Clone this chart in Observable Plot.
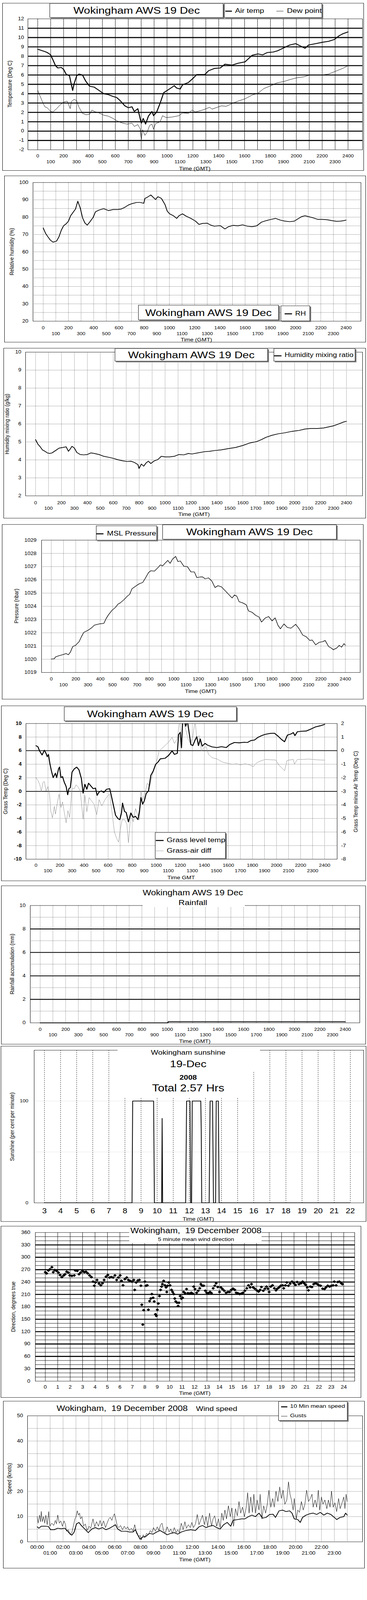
<!DOCTYPE html>
<html>
<head>
<meta charset="utf-8">
<script src="https://cdn.jsdelivr.net/npm/d3@7"></script>
<script src="https://cdn.jsdelivr.net/npm/@observablehq/plot@0.6"></script>
<style>
html,body{margin:0;padding:0;background:#fff;overflow:hidden;}
#page{position:relative;width:940px;height:4800px;overflow:hidden;background:#fff;font-family:"Liberation Sans",Arial,Helvetica,sans-serif;color:#000;transform-origin:0 0;}
.pb{position:absolute;border:1px solid #000;box-sizing:border-box;}
.sv{position:absolute;}
.bx{position:absolute;background:#fff;border:1px solid #000;box-sizing:border-box;box-shadow:3px 3px 0 #808080;}
.wh{position:absolute;background:#fff;}
.t{position:absolute;white-space:nowrap;line-height:1;}
.sw{position:absolute;}
</style>
</head>
<body>
<div id="page"></div>
<script>
// ---------------- DATA (time in hours GMT) ----------------
const hourTicks = [0,1,2,3,4,5,6,7,8,9,10,11,12,13,14,15,16,17,18,19,20,21,22,23,24];
const evenHours = [0,2,4,6,8,10,12,14,16,18,20,22,24];
const oddHours = [1,3,5,7,9,11,13,15,17,19,21,23];
const evenHoursWS = [0,2,4,6,8,10,12,14,16,18,20,22];

const airTemp = [[0,8.75],[0.55,8.5],[0.73,8.4],[1.00,8.15],[1.18,7.6],[1.37,7.0],[1.55,6.75],[1.82,6.8],[2.00,6.6],[2.19,6.1],[2.46,5.9],[2.55,5.3],[2.70,4.35],[2.82,5.1],[3.01,5.9],[3.19,6.1],[3.46,6.0],[3.73,5.3],[4.01,4.8],[4.37,4.7],[4.74,4.35],[5.10,4.0],[5.46,3.9],[5.83,3.7],[6.10,3.6],[6.38,3.25],[6.74,2.7],[7.01,2.5],[7.29,2.6],[7.47,2.1],[7.74,2.4],[7.92,1.35],[8.01,0.85],[8.16,1.35],[8.34,0.75],[8.56,1.6],[8.83,2.1],[8.96,1.65],[9.20,2.05],[9.47,3.0],[9.74,4.1],[10.02,4.35],[10.29,4.6],[10.56,4.85],[10.75,4.6],[11.02,4.5],[11.20,4.95],[11.66,5.2],[12.02,5.65],[12.30,6.05],[12.93,6.05],[13.21,6.45],[13.66,6.7],[14.12,6.75],[14.48,7.15],[15.03,7.05],[15.48,7.25],[16.03,7.4],[16.58,8.1],[17.03,8.25],[17.40,8.15],[17.76,8.4],[18.21,8.45],[18.58,8.6],[19.03,8.9],[19.49,9.2],[19.95,9.35],[20.31,9.1],[20.67,8.85],[20.95,9.2],[21.49,9.35],[22.04,9.5],[22.50,9.6],[22.95,9.8],[23.32,10.2],[23.59,10.4],[24.00,10.6]];
const dewPoint = [[0,4.35],[0.18,3.75],[0.36,3.15],[0.55,2.6],[0.73,2.5],[1.00,2.1],[1.18,2.05],[1.46,2.4],[1.73,2.8],[2.00,3.1],[2.28,3.2],[2.51,2.4],[2.60,3.15],[2.82,3.4],[3.01,3.25],[3.19,2.55],[3.46,1.9],[3.73,1.75],[4.01,1.8],[4.19,2.25],[4.46,2.05],[4.74,1.95],[5.10,1.7],[5.46,1.6],[5.83,1.35],[6.19,1.05],[6.56,0.85],[6.92,0.75],[7.29,0.85],[7.47,0.5],[7.74,0.7],[7.92,0.25],[8.01,-0.9],[8.11,0.15],[8.29,-0.45],[8.47,-0.1],[8.65,0.6],[8.83,0.75],[8.96,0.2],[9.11,0.8],[9.47,1.0],[9.65,1.65],[9.93,1.45],[10.38,1.5],[10.93,1.65],[11.20,1.95],[11.66,1.9],[11.93,2.25],[12.20,2.05],[12.75,2.25],[13.30,2.55],[13.48,2.35],[14.21,2.7],[14.57,2.65],[15.12,3.0],[15.48,3.2],[16.03,3.45],[16.58,3.85],[17.03,4.05],[17.49,4.55],[18.03,4.85],[18.49,5.15],[19.03,5.3],[19.49,5.5],[20.04,5.7],[20.58,5.8],[21.04,6.0],[21.49,6.0],[22.04,6.0],[22.50,6.1],[23.04,6.4],[23.59,6.7],[24.00,7.0]];
const relHum = [[0,73.8],[0.19,70.6],[0.37,68.7],[0.56,66.8],[0.78,65.6],[1.06,66.2],[1.25,68.7],[1.44,72.6],[1.62,75.1],[1.81,76.1],[2.00,77.7],[2.18,80.9],[2.37,82.8],[2.56,84.7],[2.74,89.2],[2.93,85.4],[3.12,79.6],[3.30,76.7],[3.49,75.4],[3.68,77.1],[3.96,79.9],[4.14,83.1],[4.42,84.1],[4.79,84.9],[5.17,83.8],[5.54,84.4],[5.91,84.4],[6.19,84.7],[6.47,85.7],[6.75,87.0],[7.03,87.8],[7.41,88.5],[7.69,88.5],[7.97,88.0],[8.06,90.8],[8.25,91.5],[8.53,92.8],[8.71,91.5],[8.90,90.2],[9.09,91.8],[9.37,90.8],[9.65,87.3],[9.83,83.5],[10.02,81.9],[10.30,80.9],[10.58,79.3],[10.77,80.9],[11.04,81.9],[11.32,80.6],[11.70,79.3],[12.07,77.7],[12.35,75.8],[12.63,76.4],[13.00,76.5],[13.28,75.4],[13.56,74.8],[14.03,75.1],[14.40,73.2],[14.68,74.5],[15.06,75.3],[15.43,75.0],[15.80,75.6],[16.18,74.8],[16.55,74.5],[16.92,75.0],[17.29,77.1],[17.67,78.0],[18.04,78.7],[18.41,79.3],[18.79,78.3],[19.16,77.7],[19.53,77.4],[19.90,77.7],[20.18,79.0],[20.47,80.3],[20.75,80.8],[21.03,80.3],[21.40,79.6],[21.77,78.7],[22.15,78.7],[22.52,78.5],[22.89,78.0],[23.27,77.6],[23.54,77.7],[23.82,78.0],[24.00,78.3]];
const mixRatio = [[0,5.13],[0.18,4.88],[0.36,4.73],[0.54,4.55],[0.73,4.48],[0.91,4.39],[1.09,4.36],[1.27,4.39],[1.54,4.52],[1.82,4.66],[2.09,4.69],[2.36,4.73],[2.54,4.48],[2.67,4.6],[2.81,4.76],[3.00,4.66],[3.18,4.42],[3.45,4.3],[3.72,4.28],[3.99,4.3],[4.27,4.39],[4.54,4.36],[4.90,4.3],[5.27,4.2],[5.63,4.15],[5.99,4.09],[6.35,4.01],[6.72,3.95],[7.08,3.91],[7.35,3.93],[7.63,3.86],[7.90,3.74],[7.99,3.52],[8.17,3.77],[8.35,3.65],[8.53,3.83],[8.71,3.93],[8.90,3.8],[9.17,3.95],[9.44,4.02],[9.71,4.2],[9.99,4.17],[10.35,4.17],[10.71,4.2],[11.07,4.3],[11.44,4.28],[11.80,4.36],[12.07,4.33],[12.53,4.39],[13.07,4.46],[13.43,4.48],[13.80,4.52],[14.34,4.56],[14.89,4.63],[15.43,4.69],[15.98,4.8],[16.52,4.94],[17.07,5.02],[17.43,5.13],[17.79,5.26],[18.25,5.37],[18.70,5.45],[19.24,5.51],[19.79,5.59],[20.33,5.64],[20.79,5.72],[21.24,5.75],[21.79,5.75],[22.24,5.78],[22.69,5.85],[23.06,5.91],[23.42,6.01],[23.78,6.11],[24.00,6.15]];
const mslPressure = [[0,1020.02],[0.25,1020.04],[0.35,1020.18],[0.63,1020.27],[0.92,1020.34],[1.21,1020.43],[1.40,1020.34],[1.56,1020.54],[1.75,1020.96],[1.98,1021.05],[2.27,1021.33],[2.46,1021.7],[2.65,1022.03],[3.04,1022.21],[3.32,1022.4],[3.52,1022.58],[3.90,1022.67],[4.29,1022.71],[4.48,1023.08],[4.67,1023.36],[4.96,1023.7],[5.25,1023.93],[5.44,1024.16],[5.63,1024.26],[5.92,1024.49],[6.21,1024.77],[6.40,1024.91],[6.59,1025.33],[6.88,1025.52],[7.17,1025.7],[7.46,1025.8],[7.65,1026.08],[7.94,1026.55],[8.13,1026.69],[8.42,1026.66],[8.70,1026.92],[8.90,1027.13],[9.09,1027.06],[9.28,1027.25],[9.51,1027.47],[9.70,1027.25],[9.90,1027.57],[10.15,1027.77],[10.34,1027.38],[10.53,1027.43],[10.82,1027.03],[11.11,1027.0],[11.40,1026.6],[11.68,1026.6],[11.88,1026.17],[12.16,1026.22],[12.36,1026.22],[12.55,1026.08],[12.84,1026.15],[13.12,1025.89],[13.36,1025.42],[13.61,1025.56],[13.89,1025.47],[14.18,1025.19],[14.47,1024.91],[14.76,1024.63],[14.95,1024.86],[15.14,1024.77],[15.33,1024.35],[15.62,1024.26],[15.91,1024.12],[16.10,1023.65],[16.39,1023.55],[16.68,1023.32],[16.97,1023.18],[17.16,1022.81],[17.45,1023.11],[17.74,1023.23],[18.02,1022.9],[18.27,1023.13],[18.50,1022.57],[18.70,1022.3],[18.99,1022.67],[19.27,1022.4],[19.56,1022.35],[19.95,1022.64],[20.23,1022.3],[20.52,1021.83],[20.81,1021.7],[21.10,1021.42],[21.29,1021.46],[21.58,1021.09],[21.87,1021.28],[22.16,1021.33],[22.35,1021.42],[22.64,1020.96],[22.83,1020.86],[23.02,1020.72],[23.31,1020.86],[23.50,1021.05],[23.69,1020.91],[23.89,1021.18],[24.00,1021.06]];
const grassTemp = [[0,6.74],[0.16,6.58],[0.31,5.93],[0.51,5.36],[0.70,6.06],[0.84,5.6],[0.94,5.11],[1.04,5.44],[1.17,3.97],[1.29,2.99],[1.43,2.02],[1.62,2.67],[1.72,2.02],[1.88,3.32],[1.96,3.57],[2.08,2.02],[2.21,2.18],[2.35,1.37],[2.51,0.72],[2.64,-0.5],[2.74,0.39],[2.86,0.55],[3.00,2.83],[3.19,3.32],[3.39,3.57],[3.58,3.16],[3.78,1.86],[3.92,-0.26],[4.07,1.04],[4.23,0.31],[4.37,1.2],[4.56,0.8],[4.76,0.39],[4.95,0.47],[5.09,-0.59],[5.25,-0.1],[5.44,0.07],[5.64,-0.18],[5.87,0.31],[6.13,0.39],[6.26,-0.59],[6.42,-1.89],[6.62,-3.52],[6.81,-4.0],[6.97,-4.17],[7.11,-3.19],[7.20,-1.73],[7.36,-2.95],[7.50,-3.11],[7.69,-4.5],[7.89,-3.19],[8.09,-3.84],[8.28,-3.68],[8.48,-4.17],[8.61,-2.87],[8.73,-0.91],[8.87,-1.89],[9.01,-1.4],[9.16,-0.34],[9.36,0.07],[9.55,2.35],[9.75,2.99],[9.95,3.97],[10.14,4.3],[10.34,4.79],[10.73,4.87],[11.02,5.28],[11.32,5.96],[11.51,5.44],[11.75,5.6],[11.86,8.37],[12.00,8.7],[12.10,6.42],[12.20,10.6],[12.33,10.6],[12.45,9.59],[12.59,10.4],[12.69,9.19],[12.88,6.9],[13.04,6.74],[13.23,7.56],[13.37,8.05],[13.51,6.74],[13.66,7.72],[13.82,6.66],[14.06,7.07],[14.25,6.82],[14.64,6.55],[15.04,6.45],[15.43,6.58],[15.82,6.45],[16.11,6.9],[16.50,7.2],[16.90,7.15],[17.29,7.23],[17.58,7.2],[17.87,7.48],[18.17,7.56],[18.46,7.96],[18.76,8.21],[19.05,8.4],[19.44,8.53],[19.83,8.57],[20.13,8.13],[20.42,7.64],[20.67,7.31],[20.91,8.29],[21.20,8.45],[21.40,8.66],[21.53,8.21],[21.73,8.78],[22.08,8.86],[22.47,8.89],[22.87,9.19],[23.26,9.51],[23.65,9.67],[24.00,9.87]];
const grassAirDiff = [[0,-1.99],[0.16,-2.19],[0.31,-2.48],[0.45,-3.01],[0.59,-2.32],[0.70,-2.28],[0.84,-2.97],[1.00,-2.64],[1.14,-3.29],[1.23,-4.43],[1.37,-4.96],[1.53,-4.11],[1.62,-4.68],[1.76,-3.94],[1.92,-3.21],[2.08,-4.19],[2.21,-3.78],[2.35,-4.51],[2.51,-5.33],[2.66,-4.43],[2.80,-4.92],[3.00,-2.8],[3.19,-2.8],[3.33,-2.52],[3.48,-2.64],[3.68,-2.97],[3.92,-5.04],[4.07,-3.29],[4.23,-4.51],[4.42,-3.46],[4.62,-3.7],[4.82,-3.94],[5.05,-4.72],[5.25,-3.62],[5.48,-4.07],[5.74,-3.62],[5.93,-3.37],[6.13,-3.21],[6.32,-4.51],[6.52,-5.98],[6.71,-6.47],[6.87,-6.75],[7.01,-5.81],[7.17,-5.08],[7.36,-5.08],[7.56,-5.41],[7.69,-6.79],[7.89,-4.6],[8.09,-5.25],[8.28,-4.27],[8.48,-4.76],[8.61,-5.08],[8.73,-2.97],[8.87,-3.62],[9.06,-3.13],[9.26,-2.4],[9.46,-2.64],[9.65,-1.91],[9.85,-1.26],[10.04,-0.77],[10.24,-0.04],[10.43,0.13],[10.73,0.37],[11.02,0.62],[11.32,0.98],[11.51,0.53],[11.75,0.86],[11.94,2.2],[12.20,2.2],[12.39,1.76],[12.65,0.86],[12.84,0.53],[13.04,1.02],[13.23,2.2],[13.37,0.94],[13.57,1.1],[13.76,-0.04],[13.96,0.21],[14.15,0.29],[14.35,-0.28],[14.64,-0.52],[15.04,-0.61],[15.52,-0.85],[15.92,-0.93],[16.31,-1.01],[16.70,-0.97],[16.99,-1.05],[17.38,-0.97],[17.78,-1.05],[18.07,-1.18],[18.36,-0.89],[18.66,-0.77],[19.05,-0.65],[19.44,-0.67],[19.93,-0.69],[20.22,-1.09],[20.52,-1.34],[20.67,-1.49],[20.87,-0.73],[21.10,-0.69],[21.40,-0.65],[21.49,-1.0],[21.73,-0.65],[22.18,-0.65],[22.67,-0.62],[23.26,-0.67],[23.65,-0.69],[24.00,-0.7]];
const rainfall = [[0,0],[10.04,0],[10.08,0.1],[24.00,0.1]];
const sunshine = [[3.00,0],[8.44,0],[8.48,100],[9.78,100],[9.83,0],[10.28,0],[10.31,83],[10.34,0],[11.77,0],[11.83,100],[12.04,100],[12.08,0],[12.14,0],[12.18,100],[12.71,100],[12.74,71],[12.77,0],[13.23,0],[13.29,100],[13.44,100],[13.47,50],[13.50,0],[13.63,0],[13.67,100],[13.80,100],[13.85,0],[21.96,0]];
const windDir = [[0.00,264],[0.11,261],[0.25,268],[0.38,271],[0.53,276],[0.64,264],[0.76,269],[0.91,267],[1.06,263],[1.19,257],[1.33,252],[1.48,256],[1.59,259],[1.72,265],[1.85,263],[1.97,256],[2.14,255],[2.33,256],[2.42,268],[2.57,267],[2.71,259],[2.84,263],[2.99,267],[3.14,264],[3.27,265],[3.41,261],[3.56,256],[3.71,252],[3.84,241],[3.94,231],[4.03,239],[4.16,245],[4.32,236],[4.47,232],[4.60,237],[4.73,245],[4.88,253],[5.03,257],[5.17,251],[5.30,252],[5.45,251],[5.60,256],[5.74,245],[5.87,251],[6.02,256],[6.13,243],[6.25,232],[6.40,247],[6.55,251],[6.68,245],[6.81,243],[6.97,241],[7.12,245],[7.19,221],[7.31,239],[7.44,244],[7.57,245],[7.69,231],[7.76,185],[7.84,137],[7.91,172],[8.01,241],[8.10,231],[8.20,232],[8.29,173],[8.39,194],[8.48,200],[8.57,211],[8.67,202],[8.76,193],[8.86,162],[8.93,158],[9.01,173],[9.09,188],[9.18,206],[9.27,221],[9.35,229],[9.42,235],[9.52,243],[9.62,232],[9.71,227],[9.77,216],[9.84,231],[9.92,239],[10.03,232],[10.15,221],[10.24,216],[10.33,211],[10.41,200],[10.49,193],[10.60,190],[10.68,182],[10.75,190],[10.85,206],[10.94,200],[11.04,202],[11.13,216],[11.24,213],[11.36,223],[11.47,213],[11.60,212],[11.74,214],[11.85,212],[11.93,229],[12.04,223],[12.17,214],[12.30,219],[12.42,225],[12.51,235],[12.61,231],[12.74,231],[12.87,219],[12.98,214],[13.12,213],[13.25,216],[13.36,213],[13.50,225],[13.63,231],[13.74,237],[13.87,228],[14.01,216],[14.12,227],[14.25,223],[14.39,219],[14.54,214],[14.69,216],[14.82,216],[14.95,221],[15.10,224],[15.24,221],[15.35,214],[15.48,213],[15.63,211],[15.77,212],[15.90,214],[16.05,219],[16.20,225],[16.34,232],[16.47,227],[16.58,235],[16.71,227],[16.85,224],[17.00,220],[17.15,217],[17.28,221],[17.38,228],[17.53,219],[17.66,224],[17.79,229],[17.91,224],[18.00,216],[18.13,229],[18.27,232],[18.42,225],[18.55,220],[18.66,224],[18.80,227],[18.93,231],[19.08,232],[19.17,225],[19.31,232],[19.42,239],[19.55,231],[19.69,236],[19.84,241],[19.99,237],[20.12,233],[20.25,240],[20.40,235],[20.56,237],[20.69,241],[20.82,237],[20.94,233],[21.07,227],[21.16,220],[21.31,229],[21.44,228],[21.58,235],[21.73,237],[21.88,235],[22.01,232],[22.14,231],[22.30,224],[22.45,223],[22.57,227],[22.71,231],[22.86,229],[23.01,231],[23.14,232],[23.24,241],[23.39,232],[23.52,240],[23.65,241],[23.80,237],[23.89,235]];
const windMean = [[0,5.95],[0.13,5.4],[0.31,6.2],[0.58,6.2],[0.86,6.1],[1.04,4.8],[1.31,4.8],[1.59,5.4],[1.86,5.2],[2.13,5.4],[2.31,4.5],[2.50,3.35],[2.68,2.65],[2.86,3.9],[3.04,7.1],[3.23,7.7],[3.41,6.5],[3.68,5.1],[3.95,3.65],[4.23,5.1],[4.50,5.65],[4.77,5.1],[5.05,5.65],[5.32,4.8],[5.60,5.4],[5.87,6.2],[6.05,6.8],[6.23,5.1],[6.51,4.2],[6.87,4.2],[7.14,3.9],[7.42,3.9],[7.60,4.8],[7.78,2.8],[7.96,1.05],[8.15,1.9],[8.42,2.2],[8.69,3.35],[8.97,3.05],[9.24,3.9],[9.51,4.5],[9.79,3.65],[10.06,2.8],[10.33,3.35],[10.61,3.65],[10.88,3.05],[11.15,3.9],[11.52,4.5],[11.88,4.8],[12.25,4.5],[12.52,5.95],[12.79,6.5],[13.07,5.65],[13.34,6.2],[13.61,6.5],[13.89,5.65],[14.16,5.1],[14.43,6.8],[14.71,7.7],[14.98,6.2],[15.16,8.55],[15.53,8.85],[15.80,9.1],[16.07,9.1],[16.35,10.0],[16.62,10.6],[16.89,10.0],[17.17,11.4],[17.44,9.4],[17.71,9.7],[17.99,10.85],[18.26,10.95],[18.44,9.7],[18.72,12.3],[18.99,12.6],[19.26,12.0],[19.54,12.3],[19.72,11.4],[19.90,9.1],[20.17,8.85],[20.36,7.7],[20.54,9.7],[20.81,10.6],[21.09,11.15],[21.36,11.4],[21.63,10.85],[21.91,11.7],[22.18,10.6],[22.45,11.4],[22.73,10.85],[23.00,9.7],[23.18,8.85],[23.45,9.7],[23.73,10.0],[23.87,11.4],[24.00,10.6]];
const windGust = [[0,10.0],[0.07,7.4],[0.18,10.6],[0.26,8.0],[0.31,12.1],[0.40,8.0],[0.49,10.0],[0.58,7.4],[0.67,10.6],[0.77,6.8],[0.89,12.0],[0.98,6.2],[1.13,7.4],[1.28,6.5],[1.40,8.5],[1.49,7.1],[1.59,10.6],[1.71,7.4],[1.82,8.3],[1.95,6.2],[2.08,8.3],[2.19,6.8],[2.26,4.2],[2.41,4.8],[2.55,2.8],[2.68,3.65],[2.77,5.65],[2.92,9.1],[2.99,9.7],[3.10,12.3],[3.19,10.6],[3.28,11.4],[3.35,9.1],[3.46,10.0],[3.59,6.2],[3.72,7.1],[3.86,4.5],[4.01,6.2],[4.14,5.4],[4.32,9.1],[4.45,5.95],[4.59,8.0],[4.74,6.2],[4.87,8.5],[4.99,6.2],[5.14,8.3],[5.29,5.65],[5.41,7.4],[5.54,9.1],[5.65,9.7],[5.78,8.5],[5.87,10.0],[5.98,11.15],[6.09,8.85],[6.20,6.2],[6.32,5.65],[6.45,6.5],[6.60,4.8],[6.74,6.2],[6.87,5.1],[7.00,5.95],[7.14,4.5],[7.29,5.4],[7.42,4.2],[7.55,6.8],[7.69,3.35],[7.84,2.2],[7.96,2.5],[8.06,0.75],[8.20,2.8],[8.33,1.6],[8.46,3.35],[8.60,2.8],[8.75,4.5],[8.88,3.65],[9.00,5.65],[9.15,4.2],[9.29,5.95],[9.42,4.5],[9.55,6.8],[9.66,7.4],[9.79,4.2],[9.91,3.65],[10.06,5.95],[10.21,3.9],[10.33,5.1],[10.46,3.35],[10.61,5.65],[10.75,3.65],[10.88,4.8],[11.01,3.65],[11.15,7.4],[11.30,4.8],[11.43,8.0],[11.55,5.4],[11.70,6.8],[11.85,5.65],[11.97,7.7],[12.10,5.65],[12.25,7.1],[12.39,10.85],[12.52,6.8],[12.65,8.5],[12.79,10.6],[12.94,6.8],[13.07,10.0],[13.19,6.2],[13.34,11.4],[13.49,6.2],[13.61,9.1],[13.74,10.3],[13.89,6.2],[14.03,9.1],[14.16,5.65],[14.29,11.4],[14.40,8.5],[14.53,12.6],[14.65,9.1],[14.80,14.3],[14.94,10.0],[15.07,13.45],[15.20,6.2],[15.35,13.15],[15.49,10.3],[15.62,16.0],[15.75,11.4],[15.89,13.75],[16.04,10.0],[16.17,13.45],[16.29,19.5],[16.40,11.4],[16.53,17.8],[16.66,11.7],[16.77,18.9],[16.89,11.4],[17.02,16.6],[17.17,12.6],[17.26,18.9],[17.39,9.1],[17.53,14.3],[17.68,11.4],[17.81,14.9],[17.93,20.5],[18.08,13.75],[18.23,17.2],[18.35,13.75],[18.48,20.1],[18.63,16.0],[18.77,21.8],[18.90,17.2],[19.03,20.5],[19.17,14.9],[19.32,16.6],[19.45,23.8],[19.57,18.9],[19.68,16.6],[19.81,12.6],[19.90,17.2],[20.05,9.1],[20.17,12.6],[20.30,11.7],[20.45,16.0],[20.59,12.6],[20.72,14.9],[20.85,20.5],[21.00,16.0],[21.14,17.2],[21.27,18.9],[21.36,13.75],[21.51,16.6],[21.63,13.75],[21.76,20.5],[21.87,12.6],[22.00,17.8],[22.12,14.9],[22.27,16.6],[22.42,13.15],[22.54,16.6],[22.67,13.75],[22.78,20.1],[22.91,13.75],[23.04,15.5],[23.18,12.0],[23.33,17.2],[23.45,13.15],[23.58,15.2],[23.73,17.8],[23.82,13.15],[23.91,18.9],[24.00,16.0]];

const tempTicks = [-2,-1,0,1,2,3,4,5,6,7,8,9,10,11,12];
const tempGrid = [-1,0,1,2,3,4,5,6,7,8,9,10,11];
const rhTicks = [20,30,40,50,60,70,80,90,100];
const rhGrid = [25,30,35,40,45,50,55,60,65,70,75,80,85,90,95];
const mixTicks = [2,3,4,5,6,7,8,9,10];
const mixGrid = [3,4,5,6,7,8,9];
const presTicks = [1019,1020,1021,1022,1023,1024,1025,1026,1027,1028,1029];
const presGrid = [1020,1021,1022,1023,1024,1025,1026,1027,1028];
const grassTicks = [-10,-8,-6,-4,-2,0,2,4,6,8,10];
const grassDotGrid = [-8,-6,-4,-2,2,4,8];
const grassSolidGrid = [0,6];
const diffTicks = [-8,-7,-6,-5,-4,-3,-2,-1,0,1,2];
const rainTicks = [0,2,4,6,8,10];
const rainThickGrid = [2,4,6,8];
const rainDotGrid = [1,3,5,7,9];
const sunHours = [3,4,5,6,7,8,9,10,11,12,13,14,15,16,17,18,19,20,21,22];
const sunTicks = [0,100];
const sunGrid = [50,100];
const dirTicks = [0,30,60,90,120,150,180,210,240,270,300,330,360];
const dirMajor = [30,60,90,120,150,180,210,240,270,300,330];
const dirMinor = [10,20,40,50,70,80,100,110,130,140,160,170,190,200,220,230,250,260,280,290,310,320,340,350];
const wsTicks = [0,10,20,30,40,50];
const wsGrid = [5,10,15,20,25,30,35,40,45];

// ---------------- HELPERS ----------------
const page = document.getElementById("page");
// the layout is drawn on a 940x4800 sheet; fit it into the real viewport height
const fit = Math.min(1, (window.innerHeight || 4800) / 4800);
page.style.transform = "scale(1," + fit + ")";
document.body.style.height = Math.round(4800 * fit) + "px";

const FONT = '"Liberation Sans", Arial, Helvetica, sans-serif';
const X = d => d[0], Y = d => d[1];
const hhmm = d => String(d * 100);
const clock = d => String(d).padStart(2, "0") + ":00";
const num = d => String(d);

function el(cls, x, y, w, h) {
  const d = document.createElement("div");
  d.className = cls;
  d.style.left = x + "px"; d.style.top = y + "px";
  if (w != null) d.style.width = w + "px";
  if (h != null) d.style.height = h + "px";
  page.appendChild(d);
  return d;
}
function border(x0, y0, x1, y1) { el("pb", x0, y0, x1 - x0, y1 - y0); }
function box(x0, y0, x1, y1) { el("bx", x0, y0, x1 - x0, y1 - y0); }
function white(x0, y0, x1, y1) { el("wh", x0, y0, x1 - x0, y1 - y0); }
function swatch(x0, x1, y, th, color) { const d = el("sw", x0, y - th / 2, x1 - x0, th); d.style.background = color || "#000"; }
function txt(s, x, y, size, o = {}) {
  const d = el("t", x, y);
  d.textContent = s;
  d.style.fontSize = size + "px";
  const a = o.anchor || "middle";
  let tr = a === "middle" ? "translate(-50%,-50%)" : a === "start" ? "translate(0,-50%)" : "translate(-100%,-50%)";
  if (o.rotate) tr += " rotate(" + o.rotate + "deg)";
  d.style.transform = tr;
  if (o.weight) d.style.fontWeight = o.weight;
  if (o.color) d.style.color = o.color;
  if (o.pre) d.style.whiteSpace = "pre";
  return d;
}
function chart(P, opts) {
  const svg = Plot.plot(Object.assign({
    width: P.x1 - P.x0,
    height: P.y1 - P.y0,
    marginLeft: P.fl - P.x0,
    marginTop: P.ft - P.y0,
    marginRight: P.x1 - P.fr,
    marginBottom: P.y1 - P.fb,
    style: {fontFamily: FONT, fontSize: "13px", color: "#000", background: "transparent", overflow: "visible"}
  }, opts));
  const wrap = el("sv", P.x0, P.y0);
  wrap.appendChild(svg);
}
const dotted = {stroke: "#000", strokeWidth: 1, strokeDasharray: "1,2"};
const xAxes = (pad1, pad2) => [
  Plot.axisX({ticks: evenHours, tickFormat: hhmm, tickSize: 0, tickPadding: pad1, fontSize: 13, label: null}),
  Plot.axisX({ticks: oddHours, tickFormat: hhmm, tickSize: 0, tickPadding: pad2, fontSize: 13, label: null})
];

// ---------------- PANEL 1: temperature ----------------
{
  const P = {x0: 6, y0: 9, x1: 932, y1: 512, fl: 71, ft: 56, fr: 928, fb: 449};
  border(P.x0, P.y0, P.x1, P.y1);
  chart(P, {
    x: {domain: [-0.76, 25.12], label: null},
    y: {domain: [-2, 12], label: null},
    marks: [
      Plot.ruleX(hourTicks, {stroke: "#000", strokeWidth: 1}),
      Plot.ruleY(tempGrid, {stroke: "#000", strokeWidth: 3}),
      Plot.frame({stroke: "#000"}),
      Plot.line(dewPoint, {x: X, y: Y, stroke: "#000", strokeWidth: 1}),
      Plot.line(airTemp, {x: X, y: Y, stroke: "#000", strokeWidth: 2.5}),
      Plot.axisY({ticks: tempTicks, tickFormat: num, tickSize: 0, tickPadding: 10, fontSize: 14, label: null}),
      ...xAxes(14, 31)
    ]
  });
  box(127, 10, 572, 53);
  txt("Wokingham AWS 19 Dec", 350, 32, 29);
  box(574, 10, 825, 53);
  swatch(577, 594, 33, 3);
  txt("Air temp", 602, 32, 20, {anchor: "start"});
  swatch(708, 726, 33, 1);
  txt("Dew point", 735, 32, 20, {anchor: "start"});
  txt("Temperature (Deg C)", 24, 252, 15, {rotate: -90});
  txt("Time (GMT)", 499, 505, 15);
}

// ---------------- PANEL 2: RH ----------------
{
  const P = {x0: 11, y0: 527, x1: 937, y1: 1027, fl: 84, ft: 547, fr: 924, fb: 963};
  border(P.x0, P.y0, P.x1, P.y1);
  chart(P, {
    x: {domain: [-0.81, 25.18], label: null},
    y: {domain: [20, 100], label: null},
    marks: [
      Plot.ruleX(hourTicks, dotted),
      Plot.ruleY(rhGrid, dotted),
      Plot.frame({stroke: "#000"}),
      Plot.line(relHum, {x: X, y: Y, stroke: "#000", strokeWidth: 2}),
      Plot.axisY({ticks: rhTicks, tickFormat: num, tickSize: 0, tickPadding: 12, fontSize: 14, label: null}),
      ...xAxes(15.5, 32.5)
    ]
  });
  box(354, 915, 714, 960);
  txt("Wokingham AWS 19 Dec", 534, 938, 29);
  box(719, 917, 794, 963);
  swatch(729, 748, 941, 3);
  txt("RH", 756, 940, 19, {anchor: "start"});
  txt("Relative humidity (%)", 29, 755, 15, {rotate: -90});
  txt("Time (GMT)", 503, 1019, 15);
}

// ---------------- PANEL 3: mixing ratio ----------------
{
  const P = {x0: 9, y0: 1044, x1: 937, y1: 1555, fl: 65, ft: 1056, fr: 928, fb: 1487};
  border(P.x0, P.y0, P.x1, P.y1);
  chart(P, {
    x: {domain: [-0.77, 25.24], label: null},
    y: {domain: [2, 10], label: null},
    marks: [
      Plot.ruleX(hourTicks, dotted),
      Plot.ruleY(mixGrid, dotted),
      Plot.frame({stroke: "#000"}),
      Plot.line(mixRatio, {x: X, y: Y, stroke: "#000", strokeWidth: 2}),
      Plot.axisY({ticks: mixTicks, tickFormat: num, tickSize: 0, tickPadding: 11, fontSize: 14, label: null}),
      ...xAxes(16.5, 32.5)
    ]
  });
  box(294, 1045, 686, 1084);
  txt("Wokingham AWS 19 Dec", 490, 1065, 29);
  box(701, 1045, 910, 1084);
  swatch(702, 721, 1067, 3);
  txt("Humidity mixing ratio", 729, 1065, 19, {anchor: "start"});
  txt("Humidity mixing ratio (g/kg)", 17, 1272, 15, {rotate: -90});
  txt("Time (GMT)", 497, 1542, 15);
}

// ---------------- PANEL 4: pressure ----------------
{
  const P = {x0: 5, y0: 1573, x1: 931, y1: 2098, fl: 106, ft: 1620, fr: 922, fb: 2017};
  border(P.x0, P.y0, P.x1, P.y1);
  chart(P, {
    x: {domain: [-0.79, 25.21], label: null},
    y: {domain: [1019, 1029], label: null},
    marks: [
      Plot.ruleX(hourTicks, dotted),
      Plot.ruleY(presGrid, dotted),
      Plot.frame({stroke: "#000"}),
      Plot.line(mslPressure, {x: X, y: Y, stroke: "#000", strokeWidth: 1.5}),
      Plot.axisY({ticks: presTicks, tickFormat: num, tickSize: 0, tickPadding: 13, fontSize: 14, label: null}),
      ...xAxes(14.5, 32.5)
    ]
  });
  box(246, 1577, 402, 1621);
  swatch(247, 265, 1601, 3);
  txt("MSL Pressure", 274, 1600, 20, {anchor: "start"});
  box(416, 1574, 862, 1618);
  txt("Wokingham AWS 19 Dec", 639, 1596, 29);
  txt("Pressure (nbar)", 41, 1818, 15, {rotate: -90});
  txt("Time (GMT)", 514, 2073, 15);
}

// ---------------- PANEL 5: grass temperature ----------------
{
  const P = {x0: 3, y0: 2117, x1: 937, y1: 2643, fl: 66, ft: 2170, fr: 863, fb: 2577};
  border(P.x0, P.y0, P.x1, P.y1);
  const diffToLeft = v => 2 * v + 6;   // right axis (-8..2) aligned to left axis (-10..10)
  chart(P, {
    x: {domain: [-0.83, 25.04], label: null},
    y: {domain: [-10, 10], label: null},
    marks: [
      Plot.ruleX(hourTicks, dotted),
      Plot.ruleY(grassDotGrid, dotted),
      Plot.ruleY(grassSolidGrid, {stroke: "#000", strokeWidth: 2}),
      Plot.frame({stroke: "#000"}),
      Plot.line(grassAirDiff, {x: X, y: d => diffToLeft(d[1]), stroke: "#8c8c8c", strokeWidth: 1, clip: true}),
      Plot.line(grassTemp, {x: X, y: Y, stroke: "#000", strokeWidth: 2.5, clip: true}),
      Plot.axisY({ticks: grassTicks, tickFormat: num, tickSize: 0, tickPadding: 11, fontSize: 14, fontWeight: "bold", label: null}),
      Plot.axisY({anchor: "right", ticks: diffTicks.map(diffToLeft), tickFormat: d => String(diffTicks[(d + 10) / 2]), tickSize: 0, tickPadding: 10, fontSize: 14, label: null}),
      ...xAxes(14, 30.5)
    ]
  });
  box(164, 2120, 606, 2163);
  txt("Wokingham AWS 19 Dec", 385, 2142, 29);
  box(397, 2497, 578, 2576);
  swatch(399, 419, 2521, 3);
  txt("Grass level temp", 427, 2520, 20, {anchor: "start"});
  swatch(399, 419, 2552, 1, "#8c8c8c");
  txt("Grass-air diff", 427, 2551, 20, {anchor: "start"});
  txt("Grass Temp (Deg C)", 13, 2374, 15, {rotate: -90});
  txt("Grass Temp minus Air Temp (Deg C)", 910, 2375, 15, {rotate: -90});
  txt("Time GMT", 464, 2632, 15);
}

// ---------------- PANEL 6: rainfall ----------------
{
  const P = {x0: 3, y0: 2657, x1: 937, y1: 3133, fl: 77, ft: 2716, fr: 921, fb: 3068};
  border(P.x0, P.y0, P.x1, P.y1);
  chart(P, {
    x: {domain: [-0.78, 25.14], label: null},
    y: {domain: [0, 10], label: null},
    marks: [
      Plot.ruleX(hourTicks, dotted),
      Plot.ruleY(rainDotGrid, dotted),
      Plot.ruleY(rainThickGrid, {stroke: "#000", strokeWidth: 2.5}),
      Plot.frame({stroke: "#000"}),
      Plot.line(rainfall, {x: X, y: Y, stroke: "#000", strokeWidth: 2.5}),
      Plot.axisY({ticks: rainTicks, tickFormat: num, tickSize: 0, tickPadding: 12, fontSize: 14, label: null}),
      ...xAxes(14.5, 31.5)
    ]
  });
  white(365, 2659, 627, 2721);
  txt("Wokingham AWS 19 Dec", 494, 2678, 23);
  txt("Rainfall", 494, 2708, 22);
  txt("Rainfall accumulation (mm)", 30, 2892, 15, {rotate: -90});
  txt("Time (GMT)", 499, 3123, 15);
}

// ---------------- PANEL 7: sunshine ----------------
{
  const P = {x0: 2, y0: 3138, x1: 938, y1: 3665, fl: 87, ft: 3150, fr: 931, fb: 3608};
  border(P.x0, P.y0, P.x1, P.y1);
  chart(P, {
    x: {domain: [2.36, 22.83], label: null},
    y: {domain: [0, 150], label: null},
    marks: [
      Plot.ruleX(sunHours, {stroke: "#000", strokeWidth: 1, strokeDasharray: "3,3"}),
      Plot.ruleY(sunGrid, {stroke: "#b0b0b0", strokeWidth: 1, strokeDasharray: "1,2"}),
      Plot.frame({stroke: "#000"}),
      Plot.line(sunshine, {x: X, y: Y, stroke: "#000", strokeWidth: 2}),
      Plot.axisY({ticks: sunTicks, tickFormat: num, tickSize: 0, tickPadding: 15, fontSize: 13, label: null}),
      Plot.axisX({ticks: sunHours, tickFormat: num, tickSize: 0, tickPadding: 16, fontSize: 21, label: null})
    ]
  });
  white(301, 3148, 666, 3215);
  white(319, 3148, 648, 3293);
  txt("Wokingham sunshine", 482, 3157, 20);
  txt("19-Dec", 482, 3192, 29);
  txt("2008", 482, 3232, 20, {weight: "bold"});
  txt("Total 2.57 Hrs", 482, 3264, 30);
  txt("Sunshine (per cent per minute)", 30, 3380, 15, {rotate: -90});
  txt("Time (GMT)", 508, 3657, 15);
}

// ---------------- PANEL 8: wind direction ----------------
{
  const P = {x0: 2, y0: 3678, x1: 925, y1: 4193, fl: 90, ft: 3697, fr: 908, fb: 4143};
  border(P.x0, P.y0, P.x1, P.y1);
  chart(P, {
    x: {domain: [-0.80, 24.88], label: null},
    y: {domain: [0, 360], label: null},
    marks: [
      Plot.ruleX(hourTicks, {stroke: "#000", strokeWidth: 1}),
      Plot.ruleY(dirMinor, {stroke: "#000", strokeWidth: 1}),
      Plot.ruleY(dirMajor, {stroke: "#000", strokeWidth: 3}),
      Plot.frame({stroke: "#000"}),
      Plot.dot(windDir, {x: X, y: Y, symbol: "diamond2", r: 4, fill: "#000", stroke: "none"}),
      Plot.axisY({ticks: dirTicks, tickFormat: num, tickSize: 0, tickPadding: 13, fontSize: 14, label: null}),
      Plot.axisX({ticks: hourTicks, tickFormat: num, tickSize: 0, tickPadding: 12.5, fontSize: 14, label: null})
    ]
  });
  white(331, 3681, 670, 3729);
  txt("Wokingham,  19 December 2008", 502, 3692, 23, {pre: true});
  txt("5 minute mean wind direction", 502, 3717, 15);
  txt("Direction, degrees true", 33, 3920, 15, {rotate: -90});
  txt("Time (GMT)", 499, 4179, 15);
}

// ---------------- PANEL 9: wind speed ----------------
{
  const P = {x0: 8, y0: 4203, x1: 934, y1: 4705, fl: 70, ft: 4247, fr: 928, fb: 4625};
  border(P.x0, P.y0, P.x1, P.y1);
  chart(P, {
    x: {domain: [-0.75, 25.18], label: null},
    y: {domain: [0, 50], label: null},
    marks: [
      Plot.ruleX(hourTicks, dotted),
      Plot.ruleY(wsGrid, dotted),
      Plot.frame({stroke: "#000"}),
      Plot.line(windGust, {x: X, y: Y, stroke: "#000", strokeWidth: 1}),
      Plot.line(windMean, {x: X, y: Y, stroke: "#000", strokeWidth: 2}),
      Plot.axisY({ticks: wsTicks, tickFormat: num, tickSize: 0, tickPadding: 11.5, fontSize: 14, label: null}),
      Plot.axisX({ticks: evenHoursWS, tickFormat: clock, tickSize: 0, tickPadding: 11, fontSize: 14, label: null}),
      Plot.axisX({ticks: oddHours, tickFormat: clock, tickSize: 0, tickPadding: 29, fontSize: 14, label: null})
    ]
  });
  txt("Wokingham,  19 December 2008", 145, 4225, 23, {anchor: "start", pre: true});
  txt("Wind speed", 502, 4226, 20, {anchor: "start"});
  box(713, 4204, 890, 4262);
  swatch(720, 736, 4220, 3);
  txt("10 Min mean speed", 743, 4219, 16, {anchor: "start"});
  swatch(720, 736, 4248, 1);
  txt("Gusts", 743, 4247, 16, {anchor: "start"});
  txt("Speed (knots)", 23, 4436, 15, {rotate: -90});
  txt("Time (GMT)", 499, 4679, 15);
}
</script>
</body>
</html>
